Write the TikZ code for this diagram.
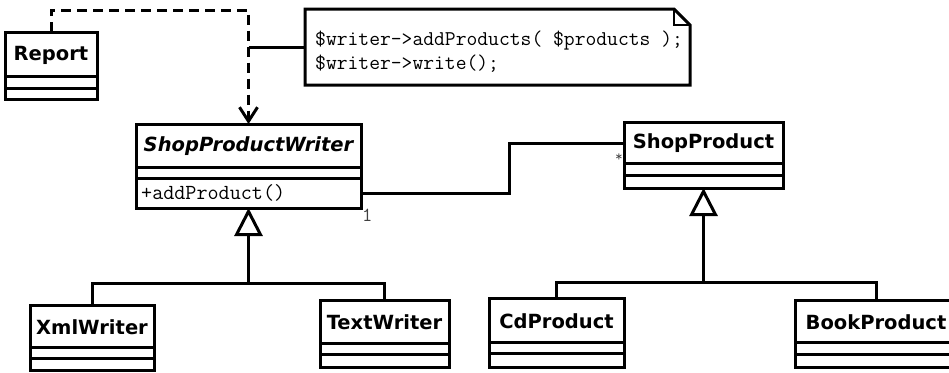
\documentclass[tikz,border=0pt]{standalone}
\usepackage{fontspec}
\setsansfont{DejaVu Sans}
\usetikzlibrary{arrows.meta}
\tikzset{
  clsbox/.style={draw, line width=3pt, inner sep=0pt, outer sep=0pt, rectangle},
  boxline/.style={line width=3pt},
  clsname/.style={font=\sffamily\bfseries\fontsize{19.5}{22}\selectfont, inner sep=0pt},
  opstext/.style={font=\ttfamily\fontsize{21.5}{24}\selectfont, inner sep=0pt, anchor=west},
  notetext/.style={font=\ttfamily\fontsize{21}{24}\selectfont, inner sep=0pt, anchor=west, align=left},
  notebox/.style={inner sep=0pt, outer sep=0pt, anchor=north west, minimum width=385pt, minimum height=76pt},
  conn/.style={line width=3pt},
  dep/.style={line width=3pt, dash pattern=on 10pt off 6pt, -{Straight Barb[length=14pt,width=18pt]}},
  gen/.style={line width=3pt, -{Triangle[open,length=28pt,width=28pt,line width=3pt]}},
  mult/.style={font=\ttfamily\fontsize{20}{20}\selectfont, inner sep=1pt, text=black!75}
}
\newcommand\umlcls[8]{%
  \node[clsbox, minimum width={(#4-#2)*1pt}, minimum height={(#7-#3)*1pt}, anchor=north west] (#1) at (#2,#3) {};
  \draw[boxline] (#2,#5) -- (#4,#5);
  \draw[boxline] (#2,#6) -- (#4,#6);
  \node[clsname] (#1-name) at ({(#2+#4)/2},{(#3+#5)/2+1}) {#8};
}
\begin{document}
\begin{tikzpicture}[x=1pt,y=-1pt]
\useasboundingbox (0,0) rectangle (949,372);
% classes
\umlcls{Report}{5}{32}{97}{76}{88}{99}{Report}
\umlcls{SPW}{136}{124}{361}{167}{178}{208}{\itshape ShopProductWriter}
\umlcls{SP}{624}{122}{783}{163}{175}{188}{ShopProduct}
\umlcls{Xml}{30}{305}{154}{347}{358}{370}{XmlWriter}
\umlcls{Text}{320}{300}{449}{343}{354}{367}{TextWriter}
\umlcls{Cd}{489}{298}{624}{342}{353}{367}{CdProduct}
\umlcls{Book}{795}{300}{957}{342}{354}{367}{BookProduct}
\node[opstext] (SPW-ops) at (141,193) {+addProduct()};
% note
\node[notebox] (note) at (305,9) {};
\node[notetext] (notetext) at ([xshift=10pt,yshift=-5pt]note.west)
  {\$writer->addProducts( \$products );\\\$writer->write();};
\draw[line width=3pt, line join=miter] (note.north west) -- ([xshift=-16pt]note.north east)
  -- ([yshift=-16pt]note.north east) -- (note.south east) -- (note.south west) -- cycle;
\draw[line width=1.6pt] ([xshift=-16pt]note.north east) |- ([yshift=-16pt]note.north east);
% dependency
\coordinate (top) at (248.5,10);
\coordinate (nj) at (248.5,47);
\draw[dep] (Report.north) |- (top) -- (SPW.north);
\draw[conn] (nj) -- (note.west);
% generalizations
\coordinate (j1) at (248.5,283);
\draw[conn] (Xml.north) |- (j1);
\draw[conn] (Text.north) |- (j1);
\draw[gen] (j1) -- (SPW.south);
\coordinate (j2) at (703.5,282);
\draw[conn] (Cd.north) |- (j2);
\draw[conn] (Book.north) |- (j2);
\draw[gen] (j2) -- (SP.south);
% association
\draw[conn] (SPW.east |- SPW-ops) -- ++(148,0) |- (SP.west |- SP-name);
\node[mult, anchor=north west] (m1) at ([xshift=0pt]SPW.south east) {1};
\node[mult, font=\ttfamily\fontsize{15}{15}\selectfont, anchor=north east] (m2) at ([yshift=-9pt]SP.west |- SP-name) {*};
\end{tikzpicture}
\end{document}
